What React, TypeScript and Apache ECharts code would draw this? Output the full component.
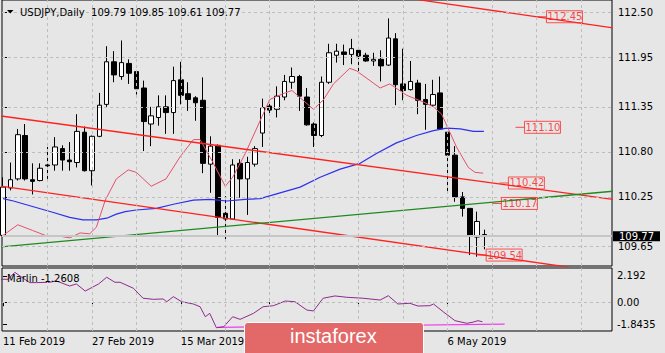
import React, { useEffect, useRef } from "react";
import * as echarts from "echarts";

const FONT = "DejaVu Sans";

// Daily candles, bar index 0 = 11 Feb 2019
const opens = [109.78, 110.36, 110.47, 111.00, 110.46, 110.45, 110.64, 110.64, 110.84, 110.70,
  110.67, 111.04, 110.57, 110.99, 111.38, 111.90, 111.72, 111.88, 111.78, 111.58,
  111.14, 111.22, 111.35, 111.28, 111.68, 111.51, 111.46, 111.43, 110.65, 110.88,
  110.05, 109.98, 110.66, 110.47, 110.65, 111.03, 111.36, 111.32, 111.47, 111.65,
  111.72, 111.47, 111.14, 111.00, 111.65, 111.98, 112.02, 111.99, 112.04, 111.98,
  111.91, 111.93, 111.86, 112.18, 111.63, 111.56, 111.64, 111.44, 111.37, 111.52,
  111.04, 110.76, 110.25, 110.11, 109.76, 109.79];
const highs = [110.49, 110.67, 111.08, 111.14, 110.66, 110.66, 110.86, 110.98, 110.88, 110.92,
  111.26, 111.11, 111.00, 111.52, 112.09, 112.03, 112.16, 111.93, 111.79, 111.67,
  111.35, 111.49, 111.49, 111.84, 111.90, 111.65, 111.48, 111.71, 110.99, 110.89,
  110.26, 110.71, 110.71, 110.74, 110.87, 111.45, 111.41, 111.60, 111.74, 111.83,
  111.74, 111.58, 111.16, 111.72, 112.12, 112.12, 112.11, 112.18, 112.07, 112.01,
  112.01, 112.04, 112.43, 112.25, 112.06, 111.91, 111.68, 111.63, 111.68, 111.72,
  111.04, 110.87, 110.31, 110.11, 110.07, 109.85];
const lows = [109.76, 110.33, 110.45, 110.45, 110.28, 110.44, 110.47, 110.57, 110.57, 110.57,
  110.61, 110.56, 110.39, 110.98, 111.35, 111.65, 111.68, 111.63, 111.50, 110.81,
  110.87, 111.12, 111.02, 111.02, 111.38, 111.30, 111.18, 110.54, 110.30, 109.76,
  109.72, 109.97, 110.24, 110.03, 110.62, 110.86, 111.26, 111.22, 111.43, 111.57,
  111.30, 111.12, 110.86, 110.98, 111.63, 111.89, 111.86, 111.87, 111.77, 111.90,
  111.85, 111.66, 111.85, 111.37, 111.43, 111.55, 111.26, 111.07, 111.35, 111.07,
  110.29, 110.19, 110.01, 109.54, 109.52, 109.61];
const closes = [110.37, 110.46, 111.01, 110.47, 110.44, 110.60, 110.63, 110.86, 110.70, 110.68,
  111.05, 110.57, 110.99, 111.37, 111.90, 111.74, 111.89, 111.76, 111.57, 111.17,
  111.24, 111.35, 111.28, 111.67, 111.49, 111.44, 111.40, 110.66, 110.87, 110.00,
  109.98, 110.64, 110.47, 110.67, 110.84, 111.34, 111.31, 111.48, 111.66, 111.72,
  111.48, 111.13, 111.00, 111.65, 112.01, 112.03, 111.99, 112.06, 111.97, 111.91,
  111.93, 111.85, 112.19, 111.62, 111.55, 111.66, 111.43, 111.38, 111.50, 111.08,
  110.76, 110.25, 110.11, 109.78, 109.95, 109.77];

// Moving averages: [bar index, price]
const fastMA: [number, number][] = [[0, 109.78], [2, 109.91], [4, 109.84], [6, 109.77], [7, 109.78],
  [9, 109.75], [10.4, 109.81], [11.7, 109.80], [12.6, 109.88], [13.8, 110.21], [15.3, 110.47],
  [16.9, 110.58], [18, 110.55], [20, 110.38], [22, 110.47], [23.9, 110.74], [25.7, 110.95],
  [26.6, 110.95], [28.4, 110.66], [30, 110.38], [31, 110.49], [32.7, 110.78], [34.2, 111.08],
  [36, 111.44], [37.8, 111.51], [39, 111.55], [40, 111.47], [41.9, 111.32], [43.2, 111.43],
  [44.6, 111.63], [46.8, 111.82], [47.7, 111.79], [50.9, 111.58], [52.2, 111.63], [54.5, 111.49],
  [56.7, 111.41], [58.1, 111.35], [59.2, 111.26], [60.1, 111.08], [61.2, 110.86], [62.8, 110.61],
  [63.7, 110.55], [64.8, 110.54]];
const slowMA: [number, number][] = [[0, 110.23], [1.4, 110.20], [4.1, 110.13], [6.8, 110.06],
  [9, 110.00], [10.8, 109.97], [12.6, 109.97], [14, 109.99], [15.3, 110.04], [16.5, 110.07],
  [18, 110.09], [20.7, 110.11], [23, 110.16], [25.7, 110.21], [28, 110.22], [30.2, 110.20],
  [32.7, 110.22], [34.7, 110.23], [37.4, 110.30], [40.1, 110.37], [42.8, 110.49], [45.5, 110.59],
  [48.2, 110.66], [50.4, 110.78], [53.1, 110.91], [55.8, 111.00], [58.1, 111.06], [59.9, 111.09],
  [61.7, 111.08], [63.5, 111.05], [64.9, 111.05]];

// Trend lines: [bar index, price] endpoints
const upperLine: [number, number][] = [[56, 112.658], [82.3, 112.315]];
const midLine: [number, number][] = [[-0.4, 111.24], [82.3, 110.219]];
const lowerLine: [number, number][] = [[-0.4, 110.383], [82.3, 109.315]];
const greenLine: [number, number][] = [[-0.4, 109.64], [82.3, 110.319]];

// Price labels: value and the bar where the marker sits
const priceLabels = [
  { price: 112.45, at: 72.74 },
  { price: 111.10, at: 69.77 },
  { price: 110.42, at: 67.6 },
  { price: 110.17, at: 66.66 },
  { price: 109.54, at: 64.6 },
];
const bidPrice = 109.77;

// Oscillator (Marlin)
const marlin: [number, number][] = [[-0.4, 1.91], [0.7, 1.91], [1.6, 2.49], [2.3, 2.18], [3.6, 1.63],
  [4.5, 1.63], [6.3, 1.66], [7.2, 1.77], [9, 1.35], [9.9, 1.52], [11.1, 0.93], [12.9, 1.52],
  [14, 2.08], [15.1, 1.66], [15.8, 1.66], [17.6, 1.16], [18.9, 0.33], [20.3, 0.24], [21.6, 0.27],
  [22.1, 0.04], [23, 0.46], [24.1, 0.04], [25.7, -0.15], [26.6, -0.38], [27.3, -1.21],
  [27.9, -0.93], [28.8, -2.13], [29.8, -2.04], [31, -1.21], [32, -1.43], [33.8, -0.93],
  [35.1, -0.38], [36.5, -0.29], [38.1, 0.10], [39.4, 0.04], [41, -0.65], [41.9, -0.73],
  [43.2, 0.33], [44.8, 0.52], [46.4, 0.41], [48.6, 0.33], [50.9, 0.18], [52, 0.54], [53.3, -0.15],
  [54.9, -0.09], [56, -0.32], [57.6, -0.29], [58.1, -0.15], [59.4, -0.79], [61, -1.54],
  [62.6, -1.76], [63.3, -1.68], [64.1, -1.54], [64.7, -1.63]];
const marlinLevel: [number, number][] = [[28.9, -2.1], [67.7, -1.83]];

const priceTicks = [112.5, 111.95, 111.35, 110.8, 110.25, 109.65];
const priceTickLabels = ["112.50", "111.95", "111.35", "110.80", "110.25", "109.65"];
const oscTicks = [2.192, 0, -1.8435];
const oscTickLabels = ["2.192", "0.00", "-1.8435"];
const dateTickBars = [0, 12, 24, 36, 48, 60];
// dates at bars 36 and 48 lie under the logo in the reference
const dateLabelBars = [0, 12, 24, 60];
const dateLabels = ["11 Feb 2019", "27 Feb 2019", "15 Mar 2019", "6 May 2019"];
const gridBars = [6, 12, 18, 24, 30, 36, 42, 48, 54, 60, 66, 72, 78];

const header = "USDJPY,Daily  109.79 109.85 109.61 109.77";
const oscTitle = "Marlin -1.2608";

const pick = (vals: number[], labels: string[]) => (v: number) => {
  const k = vals.findIndex((x) => Math.abs(x - v) < 1e-6);
  return k >= 0 ? labels[k] : "";
};

const gridLine = { color: "#bdbdbd", type: [3, 3] as any, width: 1 };

export default function App() {
  const ref = useRef<HTMLDivElement>(null);
  useEffect(() => {
    if (!ref.current) return;
    const chart = echarts.init(ref.current, undefined, { renderer: "svg" });
    const candles = opens.map((o, i) => [i, o, closes[i], lows[i], highs[i]]);
    const trend = (data: [number, number][], color: string, w = 1.3) => ({
      type: "line", data, symbol: "none", xAxisIndex: 0, yAxisIndex: 0, z: 4,
      lineStyle: { color, width: w }, silent: true,
    });
    chart.setOption({
      animation: false,
      backgroundColor: "#e6e6e6",
      textStyle: { fontFamily: FONT },
      grid: [
        { left: 2, width: 610, top: -1, height: 267, show: true, borderColor: "#000", borderWidth: 1, backgroundColor: "transparent" },
        { left: 2, width: 610, top: 268, height: 63, show: true, borderColor: "#000", borderWidth: 1, backgroundColor: "transparent" },
      ],
      xAxis: [
        { type: "value", gridIndex: 0, min: -0.135, max: 82.19, axisLine: { show: false }, axisTick: { show: false }, axisLabel: { show: false }, splitLine: { show: false } },
        {
          type: "value", gridIndex: 1, min: -0.135, max: 82.19, axisLine: { show: false }, splitLine: { show: false },
          axisTick: { show: true, customValues: dateTickBars, length: 4, lineStyle: { color: "#000" } },
          axisLabel: { show: true, customValues: dateLabelBars, formatter: pick(dateLabelBars, dateLabels), align: "left", margin: 5, fontSize: 10, color: "#000", fontFamily: FONT },
        },
      ],
      yAxis: [
        {
          type: "value", gridIndex: 0, position: "right", min: 109.4064, max: 112.6545, axisLine: { show: false }, splitLine: { show: false },
          axisTick: { show: true, customValues: priceTicks, length: 4, lineStyle: { color: "#000" } },
          axisLabel: { show: true, customValues: priceTicks, formatter: pick(priceTicks, priceTickLabels), margin: 6, fontSize: 10, color: "#000", fontFamily: FONT },
        },
        {
          type: "value", gridIndex: 1, position: "right", min: -2.4, max: 2.85, axisLine: { show: false }, splitLine: { show: false },
          axisTick: { show: true, customValues: oscTicks, length: 4, lineStyle: { color: "#000" } },
          axisLabel: { show: true, customValues: oscTicks, formatter: pick(oscTicks, oscTickLabels), margin: 5, fontSize: 10, color: "#000", fontFamily: FONT },
        },
      ],
      series: [
        {
          type: "line", data: [], xAxisIndex: 0, yAxisIndex: 0, z: 0, silent: true,
          markLine: {
            silent: true, symbol: ["none", "none"], label: { show: false }, lineStyle: gridLine,
            data: [...gridBars.map((b) => ({ xAxis: b })), ...priceTicks.map((p) => ({ yAxis: p }))],
          },
        },
        {
          type: "line", data: [], xAxisIndex: 1, yAxisIndex: 1, z: 0, silent: true,
          markLine: {
            silent: true, symbol: ["none", "none"], label: { show: false }, lineStyle: gridLine,
            data: [...gridBars.map((b) => ({ xAxis: b })), { yAxis: 0 }],
          },
        },
        {
          type: "line", data: [], xAxisIndex: 0, yAxisIndex: 0, z: 1, silent: true,
          markLine: {
            silent: true, symbol: ["none", "none"],
            lineStyle: { color: "#c6c6c6", type: "solid", width: 2 },
            label: {
              show: true, position: "end", distance: 1, formatter: bidPrice.toFixed(2),
              backgroundColor: "#000", color: "#fff", padding: [0, 6, 0, 6], lineHeight: 10, fontSize: 10, fontFamily: FONT,
            },
            data: [{ yAxis: bidPrice }],
          },
        },
        {
          type: "candlestick", data: candles, xAxisIndex: 0, yAxisIndex: 0, z: 2, barWidth: 5,
          itemStyle: { color: "#ffffff", color0: "#000000", borderColor: "#000000", borderColor0: "#000000", borderWidth: 1 },
        },
        { type: "line", data: slowMA, symbol: "none", xAxisIndex: 0, yAxisIndex: 0, z: 3, lineStyle: { color: "#2f2ff0", width: 1.2 }, silent: true },
        { type: "line", data: fastMA, symbol: "none", xAxisIndex: 0, yAxisIndex: 0, z: 3, lineStyle: { color: "#e5506a", width: 1 }, silent: true },
        trend(upperLine, "#ff2020"),
        trend(midLine, "#ff2020"),
        trend(lowerLine, "#ff2020"),
        trend(greenLine, "#1f8a1f"),
        {
          type: "scatter", xAxisIndex: 0, yAxisIndex: 0, z: 5, silent: true,
          data: priceLabels.map((l) => [l.at, l.price]),
          symbol: "rect", symbolSize: [9, 1], itemStyle: { color: "#ff2020" },
          label: {
            show: true, position: "right", distance: 0,
            formatter: (p: any) => p.value[1].toFixed(2),
            color: "#ff1a1a", fontSize: 10, fontFamily: FONT, lineHeight: 11,
            borderColor: "#ff2a2a", borderWidth: 1, padding: [1, 0, 0, 1],
          },
        },
        { type: "line", data: marlinLevel, symbol: "none", xAxisIndex: 1, yAxisIndex: 1, z: 3, lineStyle: { color: "#f03cf0", width: 1.2 }, silent: true },
        { type: "line", data: marlin, symbol: "none", xAxisIndex: 1, yAxisIndex: 1, z: 4, lineStyle: { color: "#8e2a8e", width: 1 }, silent: true },
      ],
      graphic: [
        { type: "polygon", shape: { points: [[7, 10], [13.5, 10], [10.25, 13.5]] }, style: { fill: "#000" }, z: 50 },
        { type: "text", x: 20, y: 12.5, style: { text: header, fontFamily: FONT, fontSize: 10, fill: "#000", verticalAlign: "middle" }, z: 50 },
        { type: "text", x: 7, y: 278.5, style: { text: oscTitle, fontFamily: FONT, fontSize: 10, fill: "#000", verticalAlign: "middle" }, z: 50 },
        { type: "rect", z: 100, shape: { x: 244.5, y: 322.5, width: 179, height: 40, r: 3 }, style: { fill: "#e36868", stroke: "#ffffff", lineWidth: 1 } },
        { type: "text", z: 101, x: 290, y: 336, style: { text: "instaforex", fontFamily: "Liberation Sans", fontSize: 20, fill: "#ffffff", verticalAlign: "middle" } },
      ],
    });
    return () => chart.dispose();
  }, []);
  return (
    <div
      ref={ref}
      style={{ position: "fixed", left: 0, top: 0, width: 665, height: 353, background: "#e6e6e6" }}
    />
  );
}
